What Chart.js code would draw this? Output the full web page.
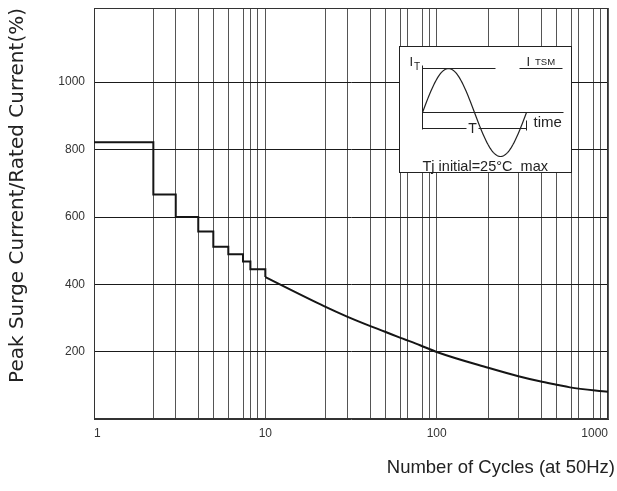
<!DOCTYPE html>
<html>
<head>
<meta charset="utf-8">
<script src="https://cdn.jsdelivr.net/npm/chart.js@4/dist/chart.umd.min.js"></script>
<style>
  html, body { margin: 0; padding: 0; background: #fff; }
  #wrap { width: 617px; height: 491px; }
</style>
</head>
<body>
<div id="wrap"><canvas id="surgeChart"></canvas></div>
<script>
// stepped part, 1..10 cycles
const stepCycles = [1, 2.22, 3, 4.06, 4.97, 6.08, 7.41, 8.18, 10];
const stepCurrent = [822, 667, 600, 557, 512, 490, 468, 445, 422];
// smooth part, 10..1000 cycles
const curveCycles = [10, 22, 30, 40, 50, 60, 80, 100, 200, 300, 400, 500, 600, 1000];
const curveCurrent = [422, 336, 305, 279, 260, 244, 220, 200, 153, 128, 113, 103, 95, 82];

// vertical grid lines (as drawn in the original, slightly off the exact decades)
const xGridValues = [1, 2.22, 3, 4.06, 4.97, 6.08, 7.41, 8.18, 9.03, 10,
  22.4, 30.3, 41, 50.2, 61.4, 67.4, 82.6, 90.8, 100,
  202, 302, 408, 502, 611, 677, 822, 910, 1000];
const xTickLabels = [1, 10, 100, 1000];
const yTickValues = [200, 400, 600, 800, 1000];

Chart.defaults.font.family = "'Liberation Sans', Arial, sans-serif";
Chart.defaults.color = '#333';

const frame = {
  id: 'frame',
  beforeDatasetsDraw(chart) {
    const { ctx, chartArea: a } = chart;
    ctx.save();
    ctx.strokeStyle = '#333';
    ctx.lineWidth = 1;
    ctx.strokeRect(Math.round(a.left) + 0.5, Math.round(a.top) + 0.5,
      Math.round(a.right - a.left) - 1, Math.round(a.bottom - a.top) - 1);
    ctx.restore();
  }
};

// the little I_TSM waveform box in the upper right
const inset = {
  id: 'inset',
  afterDatasetsDraw(chart) {
    const { ctx, chartArea: a } = chart;
    const x0 = Math.round(a.left) + 305.5, y0 = Math.round(a.top) + 38.5;
    const ax = x0 + 23, zeroY = y0 + 66, amp = 44, period = 104;
    ctx.save();
    ctx.fillStyle = '#fff';
    ctx.fillRect(x0, y0, 172, 126);
    ctx.strokeStyle = '#222';
    ctx.lineWidth = 1;
    ctx.strokeRect(x0, y0, 172, 126);

    ctx.beginPath();
    ctx.moveTo(ax, y0 + 19); ctx.lineTo(ax, y0 + 83);          // I axis
    ctx.moveTo(ax, y0 + 22); ctx.lineTo(x0 + 96, y0 + 22);      // peak level
    ctx.moveTo(x0 + 120, y0 + 22); ctx.lineTo(x0 + 163, y0 + 22); // I_TSM mark
    ctx.moveTo(ax, zeroY); ctx.lineTo(x0 + 164, zeroY);        // time axis
    ctx.moveTo(ax, y0 + 82); ctx.lineTo(x0 + 67, y0 + 82);      // T dimension
    ctx.moveTo(x0 + 79, y0 + 82); ctx.lineTo(ax + period, y0 + 82);
    ctx.moveTo(ax + period, y0 + 74); ctx.lineTo(ax + period, y0 + 84);
    ctx.stroke();

    ctx.beginPath();
    for (let i = 0; i <= 100; i++) {
      const t = i / 100;
      const px = ax + t * period, py = zeroY - amp * Math.sin(2 * Math.PI * t);
      if (i === 0) ctx.moveTo(px, py); else ctx.lineTo(px, py);
    }
    ctx.lineWidth = 1.2;
    ctx.stroke();

    ctx.fillStyle = '#222';
    ctx.textBaseline = 'alphabetic';
    ctx.textAlign = 'left';
    ctx.font = "13px 'Liberation Sans', Arial, sans-serif";
    ctx.fillText('I', x0 + 10, y0 + 19);
    ctx.fillText('I', x0 + 127, y0 + 19);
    ctx.font = "10px 'Liberation Sans', Arial, sans-serif";
    ctx.fillText('T', x0 + 14.5, y0 + 23);
    ctx.font = "9.5px 'Liberation Sans', Arial, sans-serif";
    ctx.fillText('TSM', x0 + 135.5, y0 + 18);
    ctx.font = "15px 'Liberation Sans', Arial, sans-serif";
    ctx.fillText('time', x0 + 134, y0 + 80.5);
    ctx.font = "14.5px 'Liberation Sans', Arial, sans-serif";
    ctx.fillText('Tj initial=25\u00B0C  max', ax, y0 + 124);
    ctx.textAlign = 'center';
    ctx.textBaseline = 'middle';
    ctx.font = "14px 'Liberation Sans', Arial, sans-serif";
    ctx.fillText('T', x0 + 73, y0 + 83);
    ctx.restore();
  }
};

new Chart(document.getElementById('surgeChart'), {
  type: 'line',
  data: {
    datasets: [{
      label: 'steps',
      data: stepCycles.map((c, i) => ({ x: c, y: stepCurrent[i] })),
      stepped: 'before',
      borderColor: '#151515',
      borderWidth: 2,
      pointRadius: 0
    }, {
      label: 'curve',
      data: curveCycles.map((c, i) => ({ x: c, y: curveCurrent[i] })),
      cubicInterpolationMode: 'monotone',
      borderColor: '#151515',
      borderWidth: 2,
      pointRadius: 0
    }]
  },
  options: {
    responsive: true,
    maintainAspectRatio: false,
    animation: false,
    layout: { padding: { top: 8, right: 2, left: 0, bottom: 0 } },
    plugins: {
      legend: { display: false },
      tooltip: { enabled: false },
      title: {
        display: true,
        text: 'Number of Cycles (at 50Hz)',
        position: 'bottom',
        align: 'end',
        color: '#222',
        font: { size: 18.5, weight: 'normal' },
        padding: { top: 9, bottom: 12 }
      }
    },
    scales: {
      x: {
        type: 'logarithmic',
        min: 1,
        max: 1000,
        afterBuildTicks: scale => {
          scale.ticks = xGridValues.map(v => ({ value: v }));
        },
        afterFit: scale => { scale.paddingLeft = 0; scale.paddingRight = 9; },
        ticks: {
          autoSkip: false,
          maxRotation: 0,
          align: 'inner',
          padding: 7,
          font: { size: 12 },
          callback: v => (xTickLabels.includes(v) ? String(v) : '')
        },
        grid: { color: '#555', lineWidth: 1, drawTicks: false },
        border: { color: '#333' }
      },
      y: {
        min: 0,
        max: 1220,
        afterBuildTicks: scale => {
          scale.ticks = yTickValues.map(v => ({ value: v }));
        },
        afterFit: scale => {
          scale.width = 94;
          scale.paddingTop = 0;
          scale.paddingBottom = 0;
        },
        ticks: { padding: 9, font: { size: 12 }, callback: v => String(v) },
        grid: { color: '#1a1a1a', lineWidth: 1, drawTicks: false },
        border: { color: '#333' },
        title: {
          display: true,
          text: 'Peak Surge Current/Rated Current(%)',
          align: 'end',
          color: '#222',
          font: { family: "'DejaVu Sans', sans-serif", size: 20 },
          padding: { top: 6, bottom: 0 }
        }
      }
    }
  },
  plugins: [frame, inset]
});
</script>
</body>
</html>
